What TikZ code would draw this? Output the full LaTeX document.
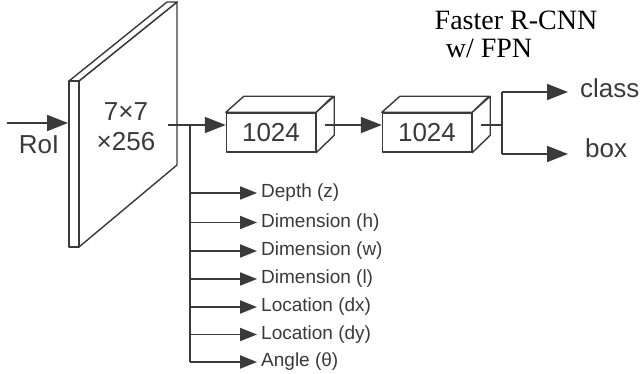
\documentclass[tikz,border=0pt]{standalone}
\usepackage{fontspec}
\setmainfont{Liberation Sans}
\newfontfamily\titlefont{Liberation Serif}
\usetikzlibrary{arrows.meta,calc}
\definecolor{ln}{HTML}{3A3A3A}
\begin{document}
\begin{tikzpicture}[x=1pt,y=-1pt,
  line/.style={draw=ln, line width=1.8pt},
  arr/.style={line, -{Triangle[length=21pt,width=16pt]}},
  sarr/.style={line, -{Triangle[length=17pt,width=13pt]}},
  face/.style={draw=ln, line width=1.4pt, fill=white, line join=round},
  big/.style={font=\fontsize{26}{30}\selectfont, text=ln},
  lbl/.style={font=\fontsize{19}{21}\selectfont, text=ln, anchor=west, inner sep=0pt},
  frontbox/.style={face, minimum width=89pt, minimum height=39pt, inner sep=0pt, big}]
\useasboundingbox (0,0) rectangle (641,374);

% slab
\draw[face] (79,81) -- (177,2) -- (177,165) -- (79,247) -- cycle;
\draw[face] (69,81) -- (167,2) -- (177,2) -- (79,81) -- cycle;
\draw[face] (69,81) rectangle (79,247);
\node[big, align=center] (slab) at (126,127) {7×7\\×256};

% RoI input
\coordinate (roiin) at (7,123);
\coordinate (slabL) at (68,123);
\draw[arr] (roiin) -- (slabL);
\node[big, anchor=base] (roi) at (39,154) {RoI};

% boxes
\newcommand{\cuboid}[2]{%
  \node[frontbox] (#1) at #2 {1024};
  \draw[face] (#1.north west) -- ++(18,-16) -- ++(89,0) -- (#1.north east) -- cycle;
  \draw[face] (#1.north east) -- ++(18,-16) -- ++(0,39) -- (#1.south east) -- cycle;
}
\cuboid{boxA}{(271,132.5)}
\cuboid{boxB}{(427,132.5)}

% slab -> box A
\coordinate (slabout) at (168,125);
\coordinate (j1) at (190,125);
\draw[line] (slabout) -- (j1);
\draw[arr] (j1) -- (j1 -| boxA.west);

% box A -> box B
\coordinate (aout) at ($(boxA.east)+(9,-7.5)$);
\draw[arr] (aout) -- (aout -| boxB.west);

% box B -> class/box
\coordinate (bout) at ($(boxB.east)+(9,-7.5)$);
\coordinate (j2) at (502,125);
\coordinate (j2t) at (502,92);
\coordinate (j2b) at (502,154);
\draw[line] (bout) -- (j2);
\draw[line] (j2t) -- (j2b);
\node[big, anchor=base west, inner sep=0pt] (cls) at (580,98) {class};
\node[big, anchor=base west, inner sep=0pt] (bx) at (585,158) {box};
\draw[arr] (j2t) -- (568,92);
\draw[arr] (j2b) -- (568,154);

% title
\node[font=\titlefont\fontsize{28}{30}\selectfont, anchor=base, inner sep=0pt] (t1) at (516,30) {Faster R-CNN};
\node[font=\titlefont\fontsize{28}{30}\selectfont, anchor=base, inner sep=0pt] (t2) at (489,58) {w/ FPN};

% regression branches
\coordinate (vtop) at (190,125);
\coordinate (vbot) at (190,362);
\draw[line] (vtop) -- (vbot);
\foreach \name/\yy/\txt in {d/193/Depth (z), h/222.5/Dimension (h), w/251/Dimension (w), l/279/Dimension (l), dx/307/Location (dx), dy/334.5/Location (dy), an/362/Angle (θ)}{
  \coordinate (s\name) at (190,\yy);
  \node[lbl] (t\name) at (261,\yy) {\txt};
  \draw[sarr] (s\name) -- ($(t\name.west)+(-4,0)$);
}
\end{tikzpicture}
\end{document}
